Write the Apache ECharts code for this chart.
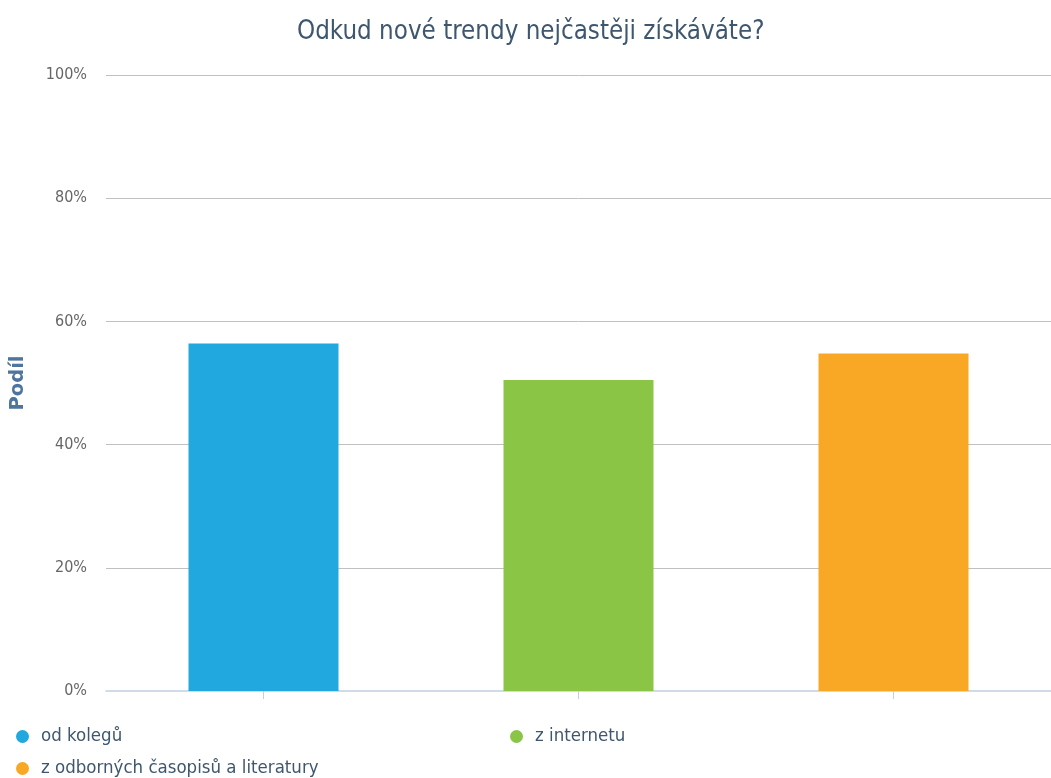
<!DOCTYPE html>
<html>
<head>
<meta charset="utf-8">
<script src="https://cdn.jsdelivr.net/npm/echarts@6/dist/echarts.min.js"></script>
<style>
html,body{margin:0;padding:0;background:#fff;}
#chart{width:1051px;height:778px;}
</style>
</head>
<body>
<div id="chart"></div>
<script>
const titleText = 'Odkud nové trendy nejčastěji získáváte?';
const categories = ['od kolegů', 'z internetu', 'z odborných časopisů a literatury'];
const values = [56.4, 50.5, 54.8];
const colors = ['#20a8df', '#8bc546', '#f9a826'];
const yTicks = [0, 20, 40, 60, 80, 100];

const FONT = 'DejaVu Sans Condensed';
const chart = echarts.init(document.getElementById('chart'), null, {renderer: 'canvas'});

const series = categories.map((name, i) => ({
  name: name,
  type: 'bar',
  barWidth: 150,
  barGap: '-100%',
  itemStyle: {color: colors[i]},
  data: categories.map((c, j) => (j === i ? values[i] : '-'))
}));

const legendPos = [
  {left: 11, top: 722},
  {left: 505, top: 722},
  {left: 11, top: 754}
];

chart.setOption({
  animation: false,
  title: {
    text: titleText,
    left: 297,
    top: 19,
    padding: 0,
    textStyle: {fontFamily: FONT, fontSize: 25.7, fontWeight: 'normal', color: '#3e576f'}
  },
  legend: categories.map((c, i) => ({
    data: [c],
    left: legendPos[i].left,
    top: legendPos[i].top,
    icon: 'circle',
    itemWidth: 13,
    itemHeight: 13,
    itemGap: 6,
    textStyle: {fontFamily: FONT, fontSize: 18.5, color: '#3e576f', padding: [0, 0, 0, 7]}
  })),
  grid: {left: 106, top: 75, width: 948, height: 616, containLabel: false},
  xAxis: {
    type: 'category',
    data: categories,
    axisLine: {lineStyle: {color: '#c0d0e0', width: 1.5}},
    axisTick: {show: true, alignWithLabel: true, length: 8, lineStyle: {color: '#c0d0e0'}},
    axisLabel: {show: false},
    splitLine: {show: false}
  },
  yAxis: {
    type: 'value',
    min: 0,
    max: 100,
    interval: 20,
    name: 'Podíl',
    nameLocation: 'middle',
    nameGap: 78,
    nameRotate: 90,
    nameTextStyle: {fontFamily: 'DejaVu Sans', fontSize: 19.5, fontWeight: 'bold', color: '#4d759e'},
    axisLine: {show: false},
    axisTick: {show: false},
    axisLabel: {
      margin: 19,
      fontFamily: FONT,
      fontSize: 16,
      color: '#666666',
      formatter: v => (yTicks.indexOf(v) >= 0 ? v + '%' : '')
    },
    splitLine: {showMinLine: false, lineStyle: {color: '#c0c0c0', width: 1}}
  },
  series: series
});
</script>
</body>
</html>
